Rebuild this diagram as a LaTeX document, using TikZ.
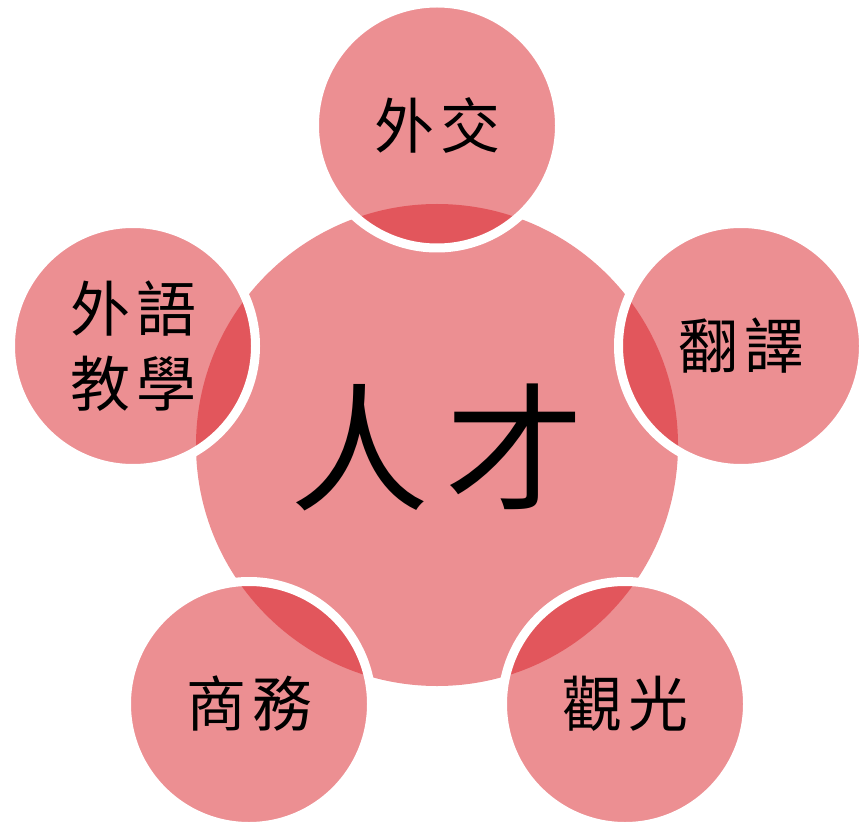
\documentclass[tikz,border=0pt]{standalone}
\usepackage{fontspec}
\newfontfamily\cjk{Noto Sans CJK TC}
\definecolor{petal}{RGB}{217,31,38}
\begin{document}
\begin{tikzpicture}[x=0.75pt,y=-0.75pt,
  hub/.style={circle,minimum size=482*0.75pt,inner sep=0pt,fill=petal,fill opacity=0.5,text opacity=1},
  sat/.style={circle,minimum size=245*0.75pt,inner sep=0pt,fill=petal,fill opacity=0.5,draw=white,draw opacity=1,line width=6.75pt,text opacity=1,align=center,font=\fontsize{45}{56}\selectfont\cjk},
  bigtxt/.style={font=\fontsize{104}{110}\selectfont\cjk}]
\useasboundingbox (0,0) rectangle (863,823);
\node[hub] (hub) at (437,445) {};
\node[bigtxt] (hubtext) at (437,447) {人\hspace{0.12em}才};
\node[sat] (top) at (437,125.5) {外\hspace{0.1em}交};
\node[sat] (right) at (741,346) {翻\hspace{0.1em}譯};
\node[sat] (left) at (133,346) {外\hspace{0.1em}語\\教\hspace{0.1em}學};
\node[sat] (br) at (625,704) {觀\hspace{0.1em}光};
\node[sat] (bl) at (249,704) {商\hspace{0.1em}務};
\end{tikzpicture}
\end{document}
